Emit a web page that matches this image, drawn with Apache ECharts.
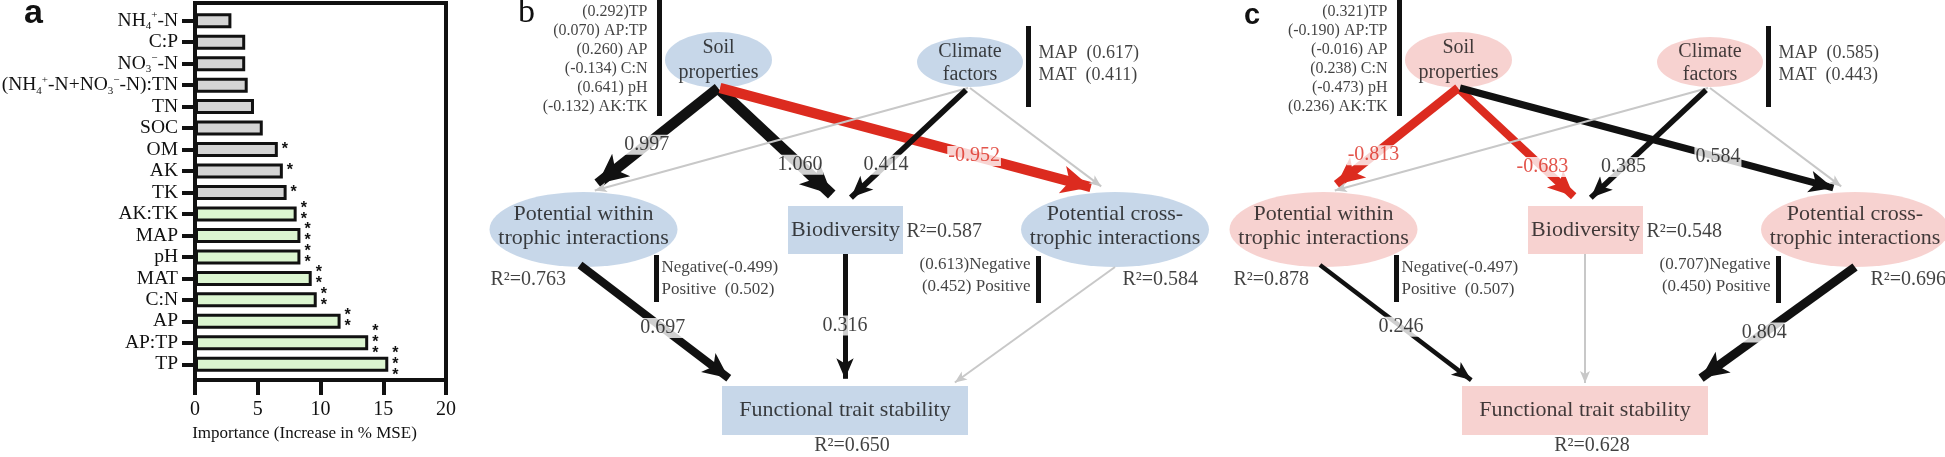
<!DOCTYPE html>
<html>
<head>
<meta charset="utf-8">
<script src="https://cdn.jsdelivr.net/npm/echarts@6/dist/echarts.min.js"></script>
<style>
html, body { margin: 0; padding: 0; background: #fff; }
#main { width: 1945px; height: 457px; }
</style>
</head>
<body>
<div id="main"></div>
<script>
// ---------- panel a : importance of predictors ----------
const factors = ['NH₄⁺-N', 'C:P', 'NO₃⁻-N', '(NH₄⁺-N+NO₃⁻-N):TN', 'TN', 'SOC', 'OM', 'AK', 'TK',
  'AK:TK', 'MAP', 'pH', 'MAT', 'C:N', 'AP', 'AP:TP', 'TP'];
const importance = [2.9, 4.0, 4.0, 4.2, 4.7, 5.4, 6.6, 7.0, 7.3, 8.1, 8.4, 8.4, 9.3, 9.7, 11.6, 13.8, 15.4];
const stars = [0, 0, 0, 0, 0, 0, 1, 1, 1, 2, 2, 2, 2, 2, 2, 3, 3];

// ---------- panels b, c : structural equation models ----------
const soilVars = ['TP', 'AP:TP', 'AP', 'C:N', 'pH', 'AK:TK'];
const soilLoadB = [0.292, 0.070, 0.260, -0.134, 0.641, -0.132];
const soilLoadC = [0.321, -0.190, -0.016, 0.238, -0.473, 0.236];
const climVars = ['MAP', 'MAT'];
const climLoadB = [0.617, 0.411];
const climLoadC = [0.585, 0.443];
const signVars = ['Negative', 'Positive'];
const withinLoadB = [-0.499, 0.502];
const withinLoadC = [-0.497, 0.507];
const crossLoadB = [0.613, 0.452];
const crossLoadC = [0.707, 0.450];
// paths: soil->within, soil->bio, soil->cross, clim->within, clim->bio, clim->cross,
//        within->func, bio->func, cross->func  (null = not significant, grey)
const coefB = [0.997, 1.060, -0.952, null, 0.414, null, 0.697, 0.316, null];
const coefC = [-0.813, -0.683, 0.584, null, 0.385, null, 0.246, null, 0.804];
const r2Nodes = ['within', 'bio', 'cross', 'func'];
const r2B = [0.763, 0.587, 0.584, 0.650];
const r2C = [0.878, 0.548, 0.696, 0.628];

// ---------- layout (panel b pixel space, panel c is shifted) ----------
const FONT = 'Liberation Serif';
const INK = '#111';
const RED = '#dc2b1f';
const GREY_EDGE = '#c8c8c8';
const CLEAR = 'rgba(0,0,0,0)';

const nodeKeys = ['soil', 'clim', 'within', 'bio', 'cross', 'func'];
const nodeLayout = {
  soil:   { x: 718.5, y: 60,    w: 107, h: 56, shape: 'circle', text: 'Soil\nproperties', fs: 20, lh: 25, dy: 0 },
  clim:   { x: 970,   y: 62,    w: 106, h: 50, shape: 'circle', text: 'Climate\nfactors', fs: 20, lh: 23, dy: 1 },
  within: { x: 583.5, y: 229.5, w: 188, h: 75, shape: 'circle', text: 'Potential within\ntrophic interactions', fs: 22, lh: 24, dy: -3 },
  bio:    { x: 845.5, y: 230,   w: 115, h: 48, shape: 'rect', text: 'Biodiversity', fs: 22, lh: 24, dy: 0 },
  cross:  { x: 1115,  y: 229.5, w: 188, h: 75, shape: 'circle', text: 'Potential cross-\ntrophic interactions', fs: 22, lh: 24, dy: -3 },
  func:   { x: 845,   y: 410.5, w: 246, h: 49, shape: 'rect', text: 'Functional trait stability', fs: 22, lh: 24, dy: 0 }
};
const pathFrom = [[718, 88], [720, 90], [720, 88], [968, 88], [966, 90], [970, 88], [580, 265], [845, 254], [1115, 267]];
const pathTip = [[586, 193], [843, 205], [1105, 191], [589, 192], [843, 205], [1106, 190], [739, 386], [845, 389], [950, 386]];
const r2Pos = { within: [490, 280, 'right'], bio: [906, 232, 'right'], cross: [1122, 280, 'right'], func: [852, 446, 'inside'] };

const panels = [
  { dx: 0, fill: '#b9cde4', coef: coefB, soil: soilLoadB, clim: climLoadB, within: withinLoadB, cross: crossLoadB, r2: r2B,
    labelT: [0.54, 0.65, 0.66, 0, 0.65, 0, 0.52, 0.53, 0], r2Shift: [0, 0, 0, 0] },
  { dx: 740, fill: '#f5c7c4', coef: coefC, soil: soilLoadC, clim: climLoadC, within: withinLoadC, cross: crossLoadC, r2: r2C,
    labelT: [0.64, 0.67, 0.67, 0, 0.67, 0, 0.51, 0, 0.55], r2Shift: [3, 0, 8, 0] }
];

const fmt = v => v.toFixed(3);

// sub/superscripts of the ion names as small rich-text pieces
function ionLabel(s) {
  return s.replace(/₄/g, '{sub|4}').replace(/₃/g, '{sub|3}')
    .replace(/⁺/g, '{sup|+}').replace(/⁻/g, '{sup|−}');
}

function textItem(x, y, text, pos, fs) {
  return {
    value: [x, y],
    label: { show: true, position: pos, distance: 0, formatter: text, fontSize: fs, color: INK, fontFamily: FONT }
  };
}

function panelSeries(p) {
  const dx = p.dx;
  const nodes = nodeKeys.map(k => {
    const n = nodeLayout[k];
    return {
      value: [n.x + dx, n.y],
      symbol: n.shape,
      symbolSize: [n.w, n.h],
      itemStyle: { color: p.fill },
      label: { show: true, position: 'inside', offset: [0, n.dy], formatter: n.text, fontSize: n.fs, lineHeight: n.lh, color: INK, fontFamily: FONT }
    };
  });

  const edges = [];
  const edgeLabels = [];
  p.coef.forEach((c, i) => {
    const sig = c !== null;
    const a = sig ? Math.abs(c) : 0;
    const from = [pathFrom[i][0] + dx, pathFrom[i][1]];
    const tip = [pathTip[i][0] + dx, pathTip[i][1]];
    // arrow head: length along the path and full width
    const headLen = sig ? 16 + 14 * a : 12;
    const headWid = sig ? 12 + 17 * a : 10;
    const len = Math.hypot(tip[0] - from[0], tip[1] - from[1]);
    const ux = (tip[0] - from[0]) / len, uy = (tip[1] - from[1]) / len;
    const end = [tip[0] - ux * headLen / 2, tip[1] - uy * headLen / 2];
    const color = !sig ? GREY_EDGE : (c < 0 ? RED : INK);
    edges.push({
      coords: [from, end],
      lineStyle: { width: sig ? 2.5 + 8 * a : 2, color: color, opacity: 1 },
      symbol: ['none', 'arrow'],
      symbolSize: [1, [headWid * 0.75, headLen]]
    });
    if (sig) {
      const t = p.labelT[i];
      edgeLabels.push({
        value: [from[0] + t * (tip[0] - from[0]), from[1] + t * (tip[1] - from[1])],
        label: { formatter: fmt(c), color: c < 0 ? RED : INK }
      });
    }
  });

  const texts = [];
  soilVars.forEach((v, i) => {
    texts.push(textItem(648 + dx, 12 + 19 * i, '(' + fmt(p.soil[i]) + ')' + (i ? ' ' : '') + v, 'left', 16));
  });
  climVars.forEach((v, i) => {
    texts.push(textItem(1038 + dx, 53 + 22 * i, v + '  (' + fmt(p.clim[i]) + ')', 'right', 18));
  });
  signVars.forEach((v, i) => {
    texts.push(textItem(661 + dx, 268 + 22 * i, v + (i ? '  ' : '') + '(' + fmt(p.within[i]) + ')', 'right', 17));
    texts.push(textItem(1031 + dx, 265 + 22 * i, '(' + fmt(p.cross[i]) + ')' + (i ? ' ' : '') + v, 'left', 17));
  });
  r2Nodes.forEach((k, i) => {
    const rp = r2Pos[k];
    texts.push(textItem(rp[0] + dx + p.r2Shift[i], rp[1], 'R\u00b2=' + fmt(p.r2[i]), rp[2], 20));
  });

  const bars = [
    [[659, 0], [659, 116]], [[1028, 26], [1028, 107]],
    [[656, 255], [656, 302]], [[1038, 256], [1038, 303]]
  ].map(b => ({ coords: [[b[0][0] + dx, b[0][1]], [b[1][0] + dx, b[1][1]]] }));

  return [
    { type: 'scatter', xAxisIndex: 1, yAxisIndex: 1, z: 2, silent: true, data: nodes },
    { type: 'lines', coordinateSystem: 'cartesian2d', xAxisIndex: 1, yAxisIndex: 1, z: 3, silent: true,
      lineStyle: { opacity: 1 }, data: edges },
    { type: 'lines', coordinateSystem: 'cartesian2d', xAxisIndex: 1, yAxisIndex: 1, z: 3, silent: true,
      lineStyle: { width: 5, color: INK, opacity: 1 }, symbol: 'none', data: bars },
    { type: 'scatter', xAxisIndex: 1, yAxisIndex: 1, z: 4, silent: true, symbolSize: 1,
      itemStyle: { color: CLEAR },
      label: { show: true, position: 'inside', fontSize: 20, fontFamily: FONT, backgroundColor: '#fff', padding: [0, 1], lineHeight: 20 },
      data: edgeLabels },
    { type: 'scatter', xAxisIndex: 1, yAxisIndex: 1, z: 4, silent: true, symbolSize: 1,
      itemStyle: { color: CLEAR }, data: texts }
  ];
}

const chart = echarts.init(document.getElementById('main'));

const option = {
  animation: false,
  backgroundColor: '#fff',
  textStyle: { fontFamily: FONT, color: INK },
  grid: [
    { left: 195, top: 10, width: 251, height: 365, outerBoundsMode: 'none', containLabel: false },
    { left: 0, top: 0, width: 1945, height: 457, outerBoundsMode: 'none', containLabel: false }
  ],
  xAxis: [
    {
      gridIndex: 0, type: 'value', min: 0, max: 20, interval: 5, offset: 5,
      axisLine: { show: false },
      splitLine: { show: false },
      axisTick: { show: true, length: 15, lineStyle: { width: 4, color: INK } },
      axisLabel: { fontSize: 20, color: INK, fontFamily: FONT, margin: 20 },
      name: 'Importance (Increase in % MSE)', nameLocation: 'middle', nameGap: 44,
      nameTextStyle: { fontSize: 17, color: INK, fontFamily: FONT, padding: [0, 32, 0, 0] }
    },
    { gridIndex: 1, type: 'value', min: 0, max: 1945, show: false }
  ],
  yAxis: [
    {
      gridIndex: 0, type: 'category', data: factors, inverse: true,
      axisLine: { show: false },
      axisTick: { show: true, alignWithLabel: true, interval: 0, length: 13, lineStyle: { width: 4, color: INK } },
      axisLabel: {
        interval: 0, fontSize: 19.5, color: INK, fontFamily: FONT, margin: 17, lineHeight: 22,
        formatter: ionLabel,
        rich: {
          sub: { fontSize: 11, fontFamily: FONT, color: INK, verticalAlign: 'bottom', lineHeight: 14 },
          sup: { fontSize: 11, fontFamily: FONT, color: INK, verticalAlign: 'top', lineHeight: 14 }
        }
      }
    },
    { gridIndex: 1, type: 'value', min: 0, max: 457, inverse: true, show: false }
  ],
  graphic: [
    { type: 'rect', z: 10, shape: { x: 195, y: 3, width: 251, height: 377 },
      style: { fill: 'none', stroke: INK, lineWidth: 4 } },
    { type: 'text', x: 24, y: 14, style: { text: 'a', font: 'bold 34px "Liberation Sans"', fill: INK, verticalAlign: 'middle' } },
    { type: 'text', x: 518, y: 13, style: { text: 'b', font: '34px "Liberation Serif"', fill: INK, verticalAlign: 'middle' } },
    { type: 'text', x: 1244, y: 16, style: { text: 'c', font: 'bold 29px "Liberation Sans"', fill: INK, verticalAlign: 'middle' } }
  ],
  series: [
    {
      type: 'bar', xAxisIndex: 0, yAxisIndex: 0,
      barWidth: 15,
      data: importance.map((v, i) => ({
        value: v,
        itemStyle: { color: stars[i] >= 2 ? '#dbf5d0' : '#d4d4d4' }
      })),
      itemStyle: { borderColor: INK, borderWidth: 3 },
      label: {
        show: true, position: 'right', distance: 4,
        formatter: p => Array(stars[p.dataIndex]).fill('*').join('\n'),
        fontSize: 16, fontWeight: 'bold', lineHeight: 11, color: INK, fontFamily: 'Liberation Sans'
      }
    }
  ].concat(panelSeries(panels[0]), panelSeries(panels[1]))
};

chart.setOption(option);
</script>
</body>
</html>
